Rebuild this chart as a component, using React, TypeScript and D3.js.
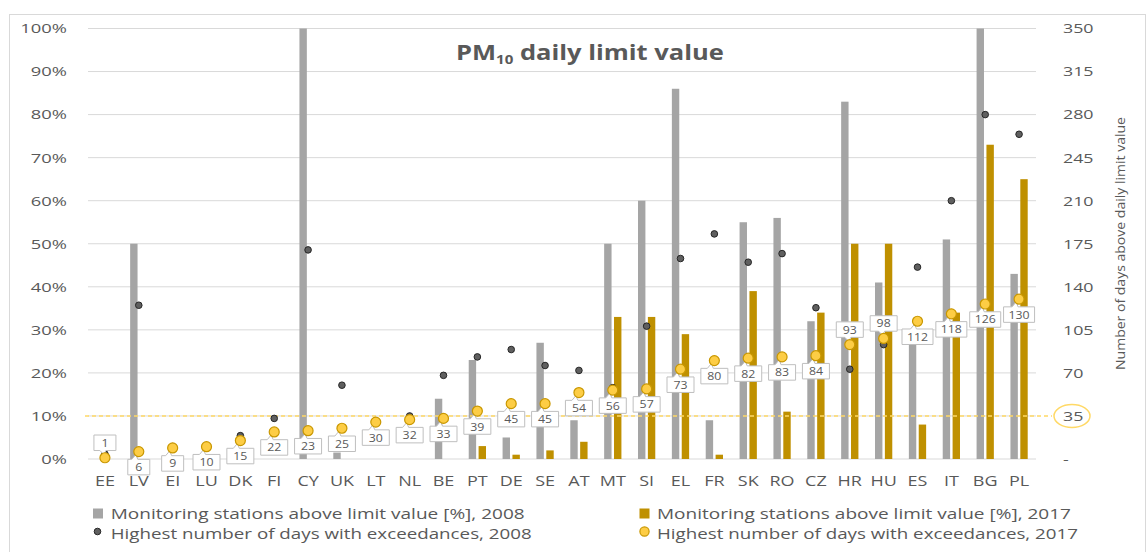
import * as d3 from "d3";
import React from "react";

const categories = ["EE", "LV", "EI", "LU", "DK", "FI", "CY", "UK", "LT", "NL", "BE", "PT", "DE", "SE", "AT", "MT", "SI", "EL", "FR", "SK", "RO", "CZ", "HR", "HU", "ES", "IT", "BG", "PL"];
// monitoring stations above limit value [%]
const stations2008 = [0, 50, 0, 0, 0, 0, 100, 1.5, 0, 0, 14, 23, 5, 27, 9, 50, 60, 86, 9, 55, 56, 32, 83, 41, 28, 51, 100, 43];
const stations2017 = [0, 0, 0, 0, 0, 0, 0, 0, 0, 0, 0, 3, 1, 2, 4, 33, 33, 29, 1, 39, 11, 34, 50, 50, 8, 34, 73, 65];
// highest number of days with exceedances
const days2008 = [4, 125, 10, 10, 19, 33, 170, 60, 31, 35, 68, 83, 89, 76, 72, 58, 108, 163, 183, 160, 167, 123, 73, 93, 156, 210, 280, 264];
const days2017 = [1, 6, 9, 10, 15, 22, 23, 25, 30, 32, 33, 39, 45, 45, 54, 56, 57, 73, 80, 82, 83, 84, 93, 98, 112, 118, 126, 130];
const leftTicks = [0, 10, 20, 30, 40, 50, 60, 70, 80, 90, 100];
const rightTicks = [0, 35, 70, 105, 140, 175, 210, 245, 280, 315, 350];
const limitDays = 35;
const calloutAbove = ["EE", "HR", "HU"];

const FONT = "'Open Sans', 'Noto Sans', sans-serif";
const TXT = "#595959";

function Label(props: any) {
  const { x, y, sx = 1, anchor = "start", size = 13, weight = "normal", dy = 0, children, length } = props;
  return (
    <text
      transform={`translate(${x},${y}) scale(${sx},1)`}
      textAnchor={anchor}
      fontSize={size}
      fontWeight={weight}
      fontFamily={FONT}
      fill={TXT}
      dy={dy}
      textLength={length}
      lengthAdjust={length ? "spacingAndGlyphs" : undefined}
    >
      {children}
    </text>
  );
}

export default function App() {
  const left = 88, right = 1036, top = 28.5, bottom = 459;

  const x = d3.scaleBand<string>().domain(categories).range([left, right]).paddingInner(0.49).paddingOuter(0.245);
  const sub = d3.scaleBand<string>().domain(["2008", "2017"]).range([0, x.bandwidth()]).paddingInner(0.25);
  const yPct = d3.scaleLinear().domain([0, 100]).range([bottom, top]);
  const yDays = d3.scaleLinear().domain([0, 350]).range([bottom, top]);
  const cx = (c: string) => (x(c) as number) + x.bandwidth() / 2;

  const callout = (c: string, v: number, i: number) => {
    const px = cx(c);
    const py = yDays(v);
    const w = String(v).length === 1 ? 22 : String(v).length === 2 ? 27 : 31;
    const h = 15.5;
    const above = calloutAbove.includes(c);
    const bx = px - w / 2;
    const by = above ? py - 15 - h / 2 : py + 15.5 - h / 2;
    let d: string;
    if (above) {
      d = `M${bx},${by} L${bx + w},${by} L${bx + w},${by + h} L${px + 1},${by + h} L${px - 1},${py - 3} L${px - 5},${by + h} L${bx},${by + h} Z`;
    } else {
      d = `M${bx},${by} L${px - 7},${by} L${px - 3},${py + 3} L${px - 1},${by} L${bx + w},${by} L${bx + w},${by + h} L${bx},${by + h} Z`;
    }
    return (
      <g key={"c" + i}>
        <path d={d} fill="#ffffff" stroke="#bfbfbf" strokeWidth={1} />
        <Label x={px} y={by + h / 2} sx={1.12} anchor="middle" size={11} dy="0.36em">{v}</Label>
      </g>
    );
  };

  return (
    <svg width={1148} height={552} style={{ position: "absolute", left: 0, top: 0, background: "#fff" }}>
      <rect x={9.5} y={14.5} width={1136} height={560} fill="#fff" stroke="#d9d9d9" />

      {/* gridlines */}
      {leftTicks.map(t => (
        <line key={"g" + t} x1={left} x2={right} y1={yPct(t)} y2={yPct(t)} stroke="#d9d9d9" strokeWidth={1} />
      ))}

      {/* left axis */}
      {leftTicks.map(t => (
        <Label key={"l" + t} x={67} y={yPct(t)} sx={1.36} anchor="end" size={13.5} dy="0.36em">{t + "%"}</Label>
      ))}
      {/* right axis */}
      {rightTicks.map(t => (
        <Label key={"r" + t} x={1063} y={yDays(t)} sx={1.32} size={13.5} dy="0.36em">{t === 0 ? "-" : t}</Label>
      ))}
      <text transform={`translate(1125,243.5) rotate(-90)`} textAnchor="middle" fontSize={13} fontFamily={FONT} fill={TXT} textLength={253} lengthAdjust="spacingAndGlyphs">
        Number of days above daily limit value
      </text>

      {/* title */}
      <text transform="translate(456,59.5) scale(1.16,1)" fontSize={22} fontWeight="bold" fontFamily={FONT} fill={TXT}>
        PM<tspan fontSize={13} dy={4}>10</tspan><tspan dy={-4}> daily limit value</tspan>
      </text>

      {/* bars */}
      {categories.map((c, i) => (
        <g key={"b" + c}>
          {stations2008[i] > 0 && (
            <rect x={(x(c) as number) + (sub("2008") as number)} y={yPct(stations2008[i])} width={sub.bandwidth()} height={bottom - yPct(stations2008[i])} fill="#a5a5a5" />
          )}
          {stations2017[i] > 0 && (
            <rect x={(x(c) as number) + (sub("2017") as number)} y={yPct(stations2017[i])} width={sub.bandwidth()} height={bottom - yPct(stations2017[i])} fill="#bf9000" />
          )}
        </g>
      ))}

      {/* limit line */}
      <line x1={85} x2={1052} y1={yDays(limitDays)} y2={yDays(limitDays)} stroke="#ffd966" strokeWidth={1.6} strokeDasharray="4,3" />
      <ellipse cx={1072} cy={yDays(limitDays)} rx={18} ry={11.5} fill="none" stroke="#ffd966" strokeWidth={1.5} />

      {/* 2008 dots */}
      {categories.map((c, i) => (
        <circle key={"d8" + c} cx={cx(c)} cy={yDays(days2008[i])} r={3.3} fill="#5f5f5f" stroke="#262626" strokeWidth={1} />
      ))}

      {/* callouts */}
      {categories.map((c, i) => callout(c, days2017[i], i))}

      {/* 2017 circles */}
      {categories.map((c, i) => (
        <circle key={"d7" + c} cx={cx(c)} cy={yDays(days2017[i])} r={5} fill="#fdcd45" stroke="#c99700" strokeWidth={1.2} />
      ))}

      {/* category labels */}
      {categories.map(c => (
        <Label key={"x" + c} x={cx(c)} y={486} sx={1.2} anchor="middle" size={15}>{c}</Label>
      ))}

      {/* legend */}
      <rect x={93} y={508.5} width={10} height={10} fill="#a5a5a5" />
      <Label x={110.7} y={518.5} size={15} length={414}>Monitoring stations above limit value [%], 2008</Label>
      <circle cx={97.5} cy={531.5} r={3.3} fill="#5f5f5f" stroke="#262626" strokeWidth={1} />
      <Label x={110.7} y={538.5} size={15} length={421}>Highest number of days with exceedances, 2008</Label>
      <rect x={639.5} y={508.5} width={10} height={10} fill="#bf9000" />
      <Label x={657} y={518.5} size={15} length={414}>Monitoring stations above limit value [%], 2017</Label>
      <circle cx={644.5} cy={531.5} r={4.6} fill="#fdcd45" stroke="#c99700" strokeWidth={1.2} />
      <Label x={657} y={538.5} size={15} length={421}>Highest number of days with exceedances, 2017</Label>
    </svg>
  );
}
